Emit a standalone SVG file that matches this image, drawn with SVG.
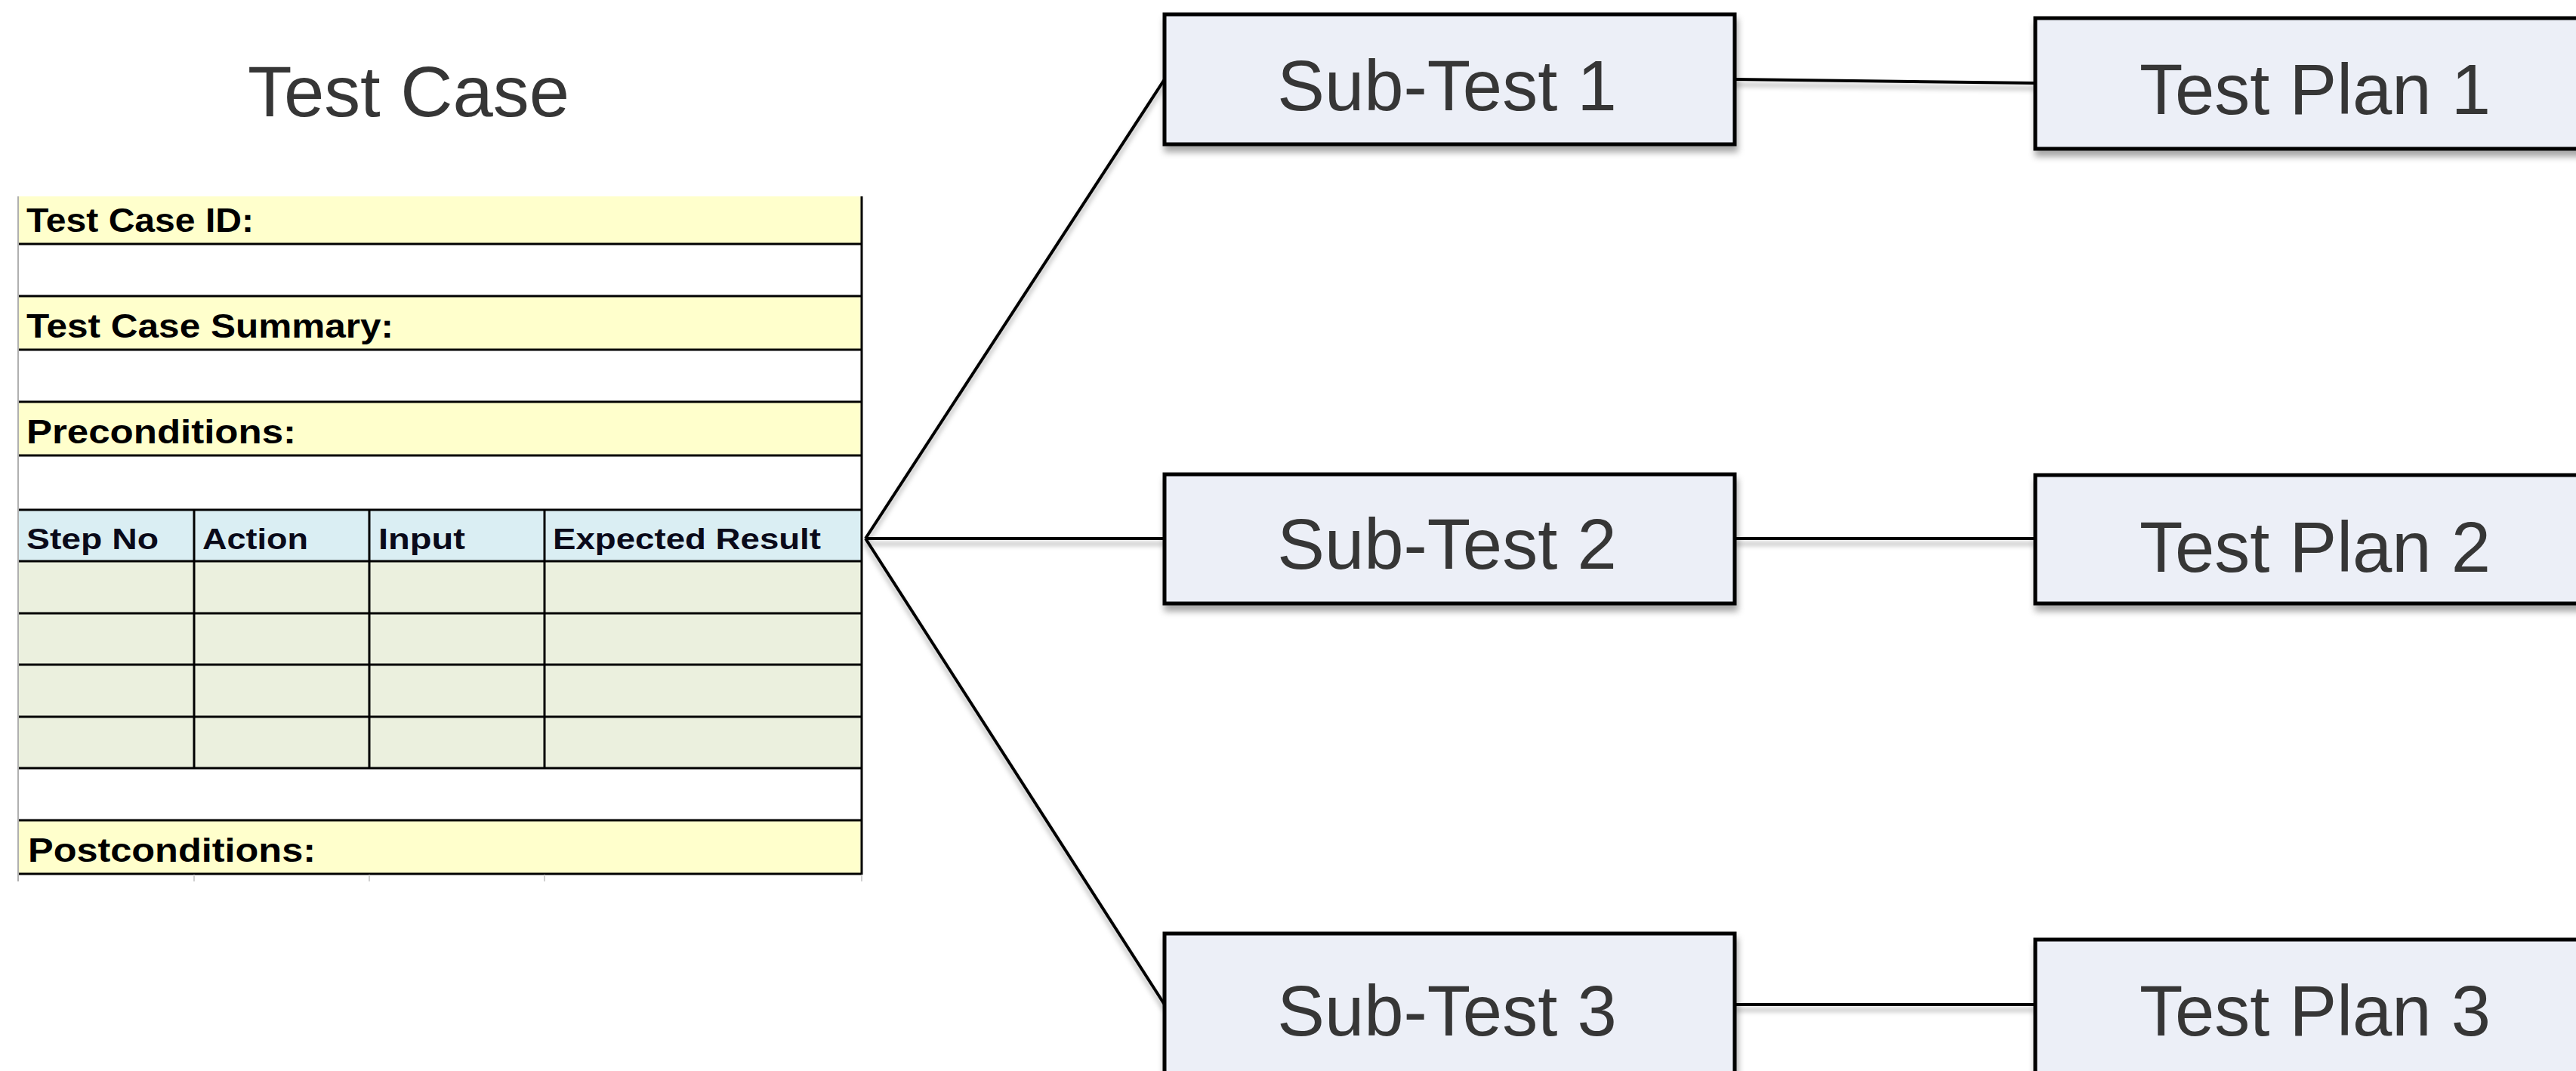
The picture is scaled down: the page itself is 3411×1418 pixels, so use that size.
<svg xmlns="http://www.w3.org/2000/svg" width="3411" height="1418" viewBox="0 0 3411 1418">
<defs>
<filter id="sh" x="-5%" y="-20%" width="110%" height="150%">
<feDropShadow dx="2" dy="8" stdDeviation="4" flood-color="#000" flood-opacity="0.35"/>
</filter>
<filter id="lsh" x="-5%" y="-50%" width="110%" height="200%" filterUnits="userSpaceOnUse">
<feDropShadow dx="0" dy="7" stdDeviation="3" flood-color="#000" flood-opacity="0.3"/>
</filter>
</defs>
<style>
.box{fill:#ECEFF7;stroke:#000;stroke-width:5}
.lbl{font-family:"Liberation Sans",Arial,sans-serif;font-size:94px;fill:#363636}
.conn{stroke:#000;stroke-width:4;fill:none}
.grid{stroke:#000;stroke-width:3}
.tt{font-family:"Liberation Sans",Arial,sans-serif;font-weight:bold;font-size:44px;fill:#000}
.th{font-family:"Liberation Sans",Arial,sans-serif;font-weight:bold;font-size:38px;fill:#0a0a1a}
.yel{fill:#FFFFCC}
.blu{fill:#DAEEF3}
.grn{fill:#EBF0DE}
</style>
<rect x="0" y="0" width="3411" height="1418" fill="#fff"/>

<g id="title">
<text class="lbl" x="328" y="154" textLength="426" lengthAdjust="spacingAndGlyphs">Test Case</text>
</g>

<g id="test-case-table">
<rect class="yel" x="24" y="260" width="1117" height="63"/>
<rect fill="#fff" x="24" y="323" width="1117" height="69"/>
<rect class="yel" x="24" y="392" width="1117" height="71"/>
<rect fill="#fff" x="24" y="463" width="1117" height="69"/>
<rect class="yel" x="24" y="532" width="1117" height="71"/>
<rect fill="#fff" x="24" y="603" width="1117" height="72"/>
<rect class="blu" x="24" y="675" width="1117" height="68"/>
<rect class="grn" x="24" y="743" width="1117" height="274"/>
<rect fill="#fff" x="24" y="1017" width="1117" height="69"/>
<rect class="yel" x="24" y="1086" width="1117" height="71"/>
<g class="grid">
<line x1="24" y1="323" x2="1142" y2="323"/>
<line x1="24" y1="392" x2="1142" y2="392"/>
<line x1="24" y1="463" x2="1142" y2="463"/>
<line x1="24" y1="532" x2="1142" y2="532"/>
<line x1="24" y1="603" x2="1142" y2="603"/>
<line x1="24" y1="675" x2="1142" y2="675"/>
<line x1="24" y1="743" x2="1142" y2="743"/>
<line x1="24" y1="812" x2="1142" y2="812"/>
<line x1="24" y1="880" x2="1142" y2="880"/>
<line x1="24" y1="949" x2="1142" y2="949"/>
<line x1="24" y1="1017" x2="1142" y2="1017"/>
<line x1="24" y1="1086" x2="1142" y2="1086"/>
<line x1="24" y1="1157" x2="1142" y2="1157"/>
<line x1="257" y1="675" x2="257" y2="1017"/>
<line x1="489" y1="675" x2="489" y2="1017"/>
<line x1="721" y1="675" x2="721" y2="1017"/>
<line x1="1141" y1="260" x2="1141" y2="1158"/>
</g>
<line x1="24" y1="260" x2="24" y2="1167" stroke="#b0b0b0" stroke-width="2"/>
<g stroke="#d0d0d0" stroke-width="2">
<line x1="257" y1="1158" x2="257" y2="1167"/>
<line x1="489" y1="1158" x2="489" y2="1167"/>
<line x1="721" y1="1158" x2="721" y2="1167"/>
<line x1="1141" y1="1158" x2="1141" y2="1167"/>
</g>
<text class="tt" x="35" y="307" textLength="301" lengthAdjust="spacingAndGlyphs">Test Case ID:</text>
<text class="tt" x="35" y="447" textLength="486" lengthAdjust="spacingAndGlyphs">Test Case Summary:</text>
<text class="tt" x="35" y="587" textLength="357" lengthAdjust="spacingAndGlyphs">Preconditions:</text>
<text class="th" x="35" y="727" textLength="175" lengthAdjust="spacingAndGlyphs">Step No</text>
<text class="th" x="268" y="727" textLength="140" lengthAdjust="spacingAndGlyphs">Action</text>
<text class="th" x="501" y="727" textLength="115" lengthAdjust="spacingAndGlyphs">Input</text>
<text class="th" x="732" y="727" textLength="355" lengthAdjust="spacingAndGlyphs">Expected Result</text>
<text class="tt" x="37" y="1141" textLength="381" lengthAdjust="spacingAndGlyphs">Postconditions:</text>
</g>

<g id="connectors" filter="url(#lsh)">
<line class="conn" x1="1146" y1="713" x2="1542" y2="105"/>
<line class="conn" x1="1146" y1="713" x2="1542" y2="713"/>
<line class="conn" x1="1146" y1="713" x2="1542" y2="1330"/>
<line class="conn" x1="2297" y1="105" x2="2695" y2="110"/>
<line class="conn" x1="2297" y1="713" x2="2695" y2="713"/>
<line class="conn" x1="2297" y1="1330" x2="2695" y2="1330"/>
</g>

<g id="sub-test-1">
<rect class="box" x="1542" y="19" width="755" height="172" filter="url(#sh)"/>
<text class="lbl" x="1916" y="146" text-anchor="middle">Sub-Test 1</text>
</g>
<g id="sub-test-2">
<rect class="box" x="1542" y="628" width="755" height="171" filter="url(#sh)"/>
<text class="lbl" x="1916" y="753" text-anchor="middle">Sub-Test 2</text>
</g>
<g id="sub-test-3">
<rect class="box" x="1542" y="1236" width="755" height="250" filter="url(#sh)"/>
<text class="lbl" x="1916" y="1371" text-anchor="middle">Sub-Test 3</text>
</g>
<g id="test-plan-1">
<rect class="box" x="2695" y="24" width="800" height="173" filter="url(#sh)"/>
<text class="lbl" x="2833" y="151">Test Plan 1</text>
</g>
<g id="test-plan-2">
<rect class="box" x="2695" y="629" width="800" height="170" filter="url(#sh)"/>
<text class="lbl" x="2833" y="757">Test Plan 2</text>
</g>
<g id="test-plan-3">
<rect class="box" x="2695" y="1244" width="800" height="250" filter="url(#sh)"/>
<text class="lbl" x="2833" y="1371">Test Plan 3</text>
</g>
</svg>
